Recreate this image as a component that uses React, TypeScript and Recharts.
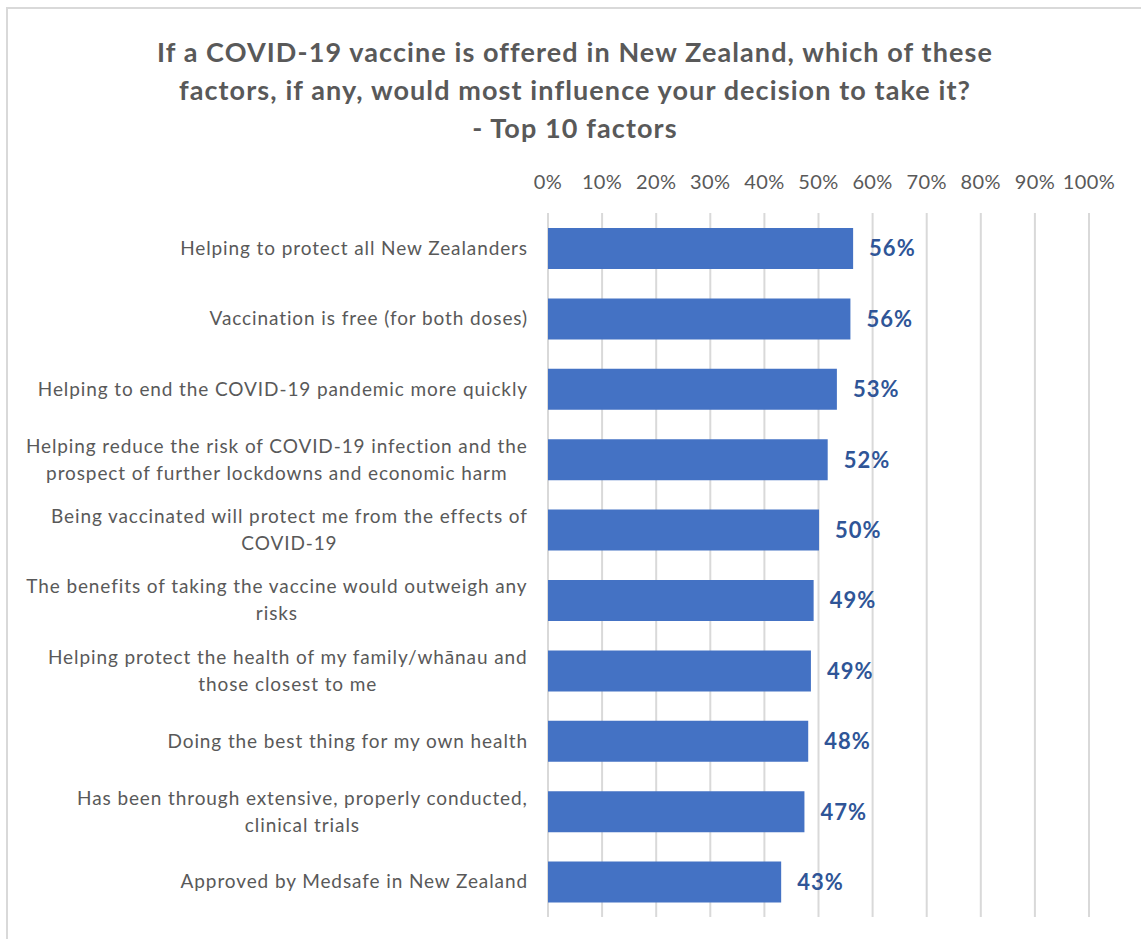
import React from 'react';
import { BarChart, Bar, XAxis, YAxis, CartesianGrid, LabelList } from 'recharts';

const titleLines = [
  'If a COVID-19 vaccine is offered in New Zealand, which of these',
  'factors, if any, would most influence your decision to take it?',
  '- Top 10 factors',
];

const categories = [
  'Helping to protect all New Zealanders',
  'Vaccination is free (for both doses)',
  'Helping to end the COVID-19 pandemic more quickly',
  'Helping reduce the risk of COVID-19 infection and the\nprospect of further lockdowns and economic harm',
  'Being vaccinated will protect me from the effects of\nCOVID-19',
  'The benefits of taking the vaccine would outweigh any\nrisks',
  'Helping protect the health of my family/wh\u0101nau and\nthose closest to me',
  'Doing the best thing for my own health',
  'Has been through extensive, properly conducted,\nclinical trials',
  'Approved by Medsafe in New Zealand',
];

const values = [0.564, 0.559, 0.534, 0.517, 0.501, 0.491, 0.486, 0.481, 0.474, 0.431];

const xTicks = [0, 0.1, 0.2, 0.3, 0.4, 0.5, 0.6, 0.7, 0.8, 0.9, 1];

const data = categories.map((c, i) => ({ name: c, value: values[i] }));

const FONT = 'Lato, "Open Sans", sans-serif';
const GRAY = '#595959';
const CAT_FONT_SIZE = 19;
const CAT_LS = 0.9;

let measureCtx: CanvasRenderingContext2D | null = null;
function measure(text: string, size: number, ls: number): number {
  if (!measureCtx) {
    const c = document.createElement('canvas');
    measureCtx = c.getContext('2d');
  }
  if (!measureCtx) return text.length * size * 0.5;
  measureCtx.font = `${size}px Lato`;
  return measureCtx.measureText(text).width + ls * text.length;
}

const CategoryTick = (props: any) => {
  const { x, y, payload } = props;
  const lines: string[] = String(payload.value).split('\n');
  const lineH = 27;
  if (lines.length === 1) {
    return (
      <text
        x={x}
        y={y}
        dy="0.35em"
        textAnchor="end"
        fontFamily={FONT}
        fontSize={CAT_FONT_SIZE}
        letterSpacing={CAT_LS}
        fill={GRAY}
      >
        {lines[0]}
      </text>
    );
  }
  const widths = lines.map((l) => measure(l, CAT_FONT_SIZE, CAT_LS));
  const maxW = Math.max(...widths);
  const cx = x - maxW / 2;
  const startY = y - ((lines.length - 1) * lineH) / 2;
  return (
    <text textAnchor="middle" fontFamily={FONT} fontSize={CAT_FONT_SIZE} letterSpacing={CAT_LS} fill={GRAY}>
      {lines.map((l, i) => (
        <tspan key={i} x={cx} y={startY + i * lineH} dy="0.35em">
          {l}
        </tspan>
      ))}
    </text>
  );
};

const PercentTick = (props: any) => {
  const { x, y, payload } = props;
  return (
    <text x={x} y={y} textAnchor="middle" fontFamily={FONT} fontSize={20} letterSpacing={0.4} fill={GRAY}>
      {`${Math.round(payload.value * 100)}%`}
    </text>
  );
};

export default function App() {
  return (
    <div
      style={{
        position: 'absolute',
        left: 0,
        top: 0,
        width: 1141,
        height: 939,
        overflow: 'hidden',
        background: '#ffffff',
      }}
    >
      <div
        style={{
          position: 'absolute',
          left: 6,
          top: 7,
          width: 1200,
          height: 1000,
          borderLeft: '2px solid #D9D9D9',
          borderTop: '2px solid #D9D9D9',
        }}
      />
      <div
        style={{
          position: 'absolute',
          left: 0,
          top: 33,
          width: 1150,
          textAlign: 'center',
          fontFamily: FONT,
          fontWeight: 700,
          fontSize: 27,
          letterSpacing: 1.1,
          lineHeight: '38px',
          color: GRAY,
        }}
      >
        {titleLines.map((t, i) => (
          <div key={i}>{t}</div>
        ))}
      </div>
      <div style={{ position: 'absolute', left: 0, top: 0 }}>
        <BarChart
          width={1141}
          height={939}
          data={data}
          layout="vertical"
          margin={{ top: 173, right: 52, bottom: 22, left: 0 }}
          barSize={41}
        >
          <CartesianGrid horizontal={false} vertical={true} stroke="#D9D9D9" strokeWidth={2} />
          <XAxis
            type="number"
            orientation="top"
            domain={[0, 1]}
            ticks={xTicks}
            interval={0}
            axisLine={false}
            tickLine={false}
            tickSize={0}
            tickMargin={24}
            height={40}
            tick={<PercentTick />}
          />
          <YAxis
            type="category"
            dataKey="name"
            width={548}
            axisLine={false}
            tickLine={false}
            tickSize={0}
            tickMargin={20}
            interval={0}
            tick={<CategoryTick />}
          />
          <Bar dataKey="value" fill="#4472C4" isAnimationActive={false}>
            <LabelList
              dataKey="value"
              position="right"
              offset={16}
              formatter={(v: any) => `${Math.round(Number(v) * 100)}%`}
              fill="#2F5597"
              fontFamily={FONT}
              fontWeight={700}
              fontSize={22}
              letterSpacing={1}
            />
          </Bar>
        </BarChart>
      </div>
    </div>
  );
}
